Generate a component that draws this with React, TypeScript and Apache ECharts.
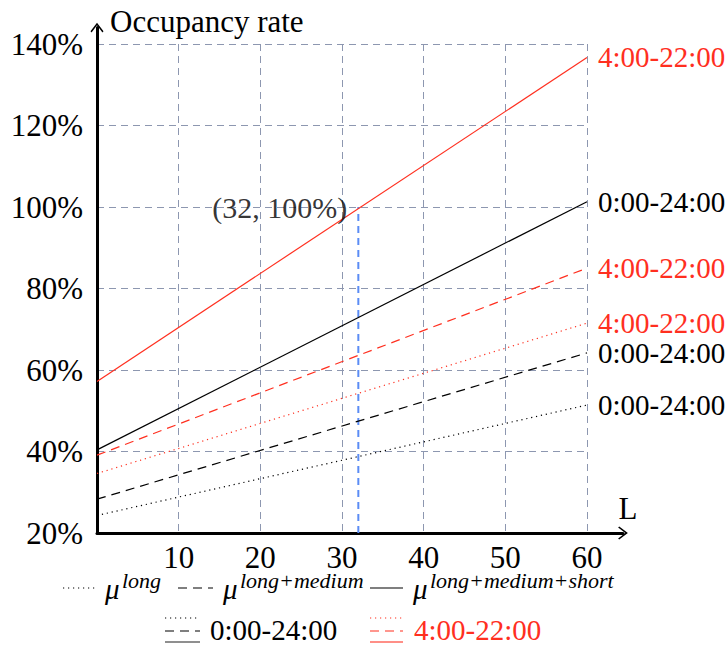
import React, { useEffect, useRef } from "react";
import * as echarts from "echarts";

// ---- data ----
const xValues = [0, 60];
const longAllDay = [24.3, 51.4];
const longMediumAllDay = [28.3, 64.2];
const longMediumShortAllDay = [40.4, 101.3];
const longDaytime = [34.6, 71.5];
const longMediumDaytime = [39.1, 85.0];
const longMediumShortDaytime = [57.2, 136.7];
const xTicks = [10, 20, 30, 40, 50, 60];
const yTicks = [20, 40, 60, 80, 100, 120, 140];
const markX = 32;
const markY = 100;
const labelAllDay = "0:00-24:00";
const labelDaytime = "4:00-22:00";
const legendSups = ["long", "long+medium", "long+medium+short"];

const FONT = '"Liberation Serif", "Times New Roman", serif';
const RED = "#ff2f1f";
const BLACK = "#000000";
const GRID = "#8d97b0";

const toPoints = (ys: number[]) => xValues.map((x, i) => [x, ys[i]]);

function lineSeries(name: string, ys: number[], color: string, type: any, label: string) {
  return {
    name,
    type: "line",
    xAxisIndex: 0,
    yAxisIndex: 0,
    data: toPoints(ys),
    showSymbol: false,
    symbol: "none",
    silent: true,
    lineStyle: { color, width: 1.2, type },
    endLabel: {
      show: true,
      formatter: label,
      color,
      fontFamily: FONT,
      fontSize: 29,
      distance: 11,
    },
    z: 3,
  };
}

const DOTTED = [1.2, 3.8];
const DASHED = [9, 6];

function titleText(text: string, left: number, centerY: number, size: number, italic: boolean, color: string) {
  return {
    text,
    left,
    top: centerY - size / 2,
    padding: 0,
    itemGap: 0,
    textStyle: {
      fontFamily: FONT,
      fontSize: size,
      fontStyle: italic ? "italic" : "normal",
      fontWeight: "normal",
      color,
      lineHeight: size,
    },
  };
}

export default function App() {
  const ref = useRef<HTMLDivElement>(null);
  useEffect(() => {
    if (!ref.current) return;
    const chart = echarts.init(ref.current, undefined, { renderer: "svg" });
    const arrowPath = "path://M0,0 L6,8 L5,9 L0,2.4 L-5,9 L-6,8 Z";

    const legendRowY = 588;
    const row2Y = 630;
    const legendGraphics: any[] = [];
    const titles: any[] = [];
    const sampleStyles = [DOTTED, DASHED, null];
    const sampleX = [[63, 97], [178, 213], [370, 403]];
    const muX = [105, 223, 413];
    sampleStyles.forEach((dash, i) => {
      legendGraphics.push({
        type: "line",
        shape: { x1: sampleX[i][0], y1: legendRowY, x2: sampleX[i][1], y2: legendRowY },
        style: { stroke: BLACK, lineWidth: 1.2, lineDash: dash || undefined },
      });
      titles.push(titleText("μ", muX[i], 589, 29, true, BLACK));
      titles.push(titleText(legendSups[i], muX[i] + 17, 580, 22, true, BLACK));
    });
    const row2 = [
      { x: [165, 200], color: BLACK, solid: "#6a6a6a", text: labelAllDay, tx: 210 },
      { x: [370, 403], color: RED, solid: "#ff6a5f", text: labelDaytime, tx: 414 },
    ];
    row2.forEach((r) => {
      legendGraphics.push({
        type: "line",
        shape: { x1: r.x[0], y1: 618, x2: r.x[1], y2: 618 },
        style: { stroke: r.color, lineWidth: 1.2, lineDash: DOTTED },
      });
      legendGraphics.push({
        type: "line",
        shape: { x1: r.x[0], y1: 631, x2: r.x[1], y2: 631 },
        style: { stroke: r.color, lineWidth: 1.2, lineDash: DASHED },
      });
      legendGraphics.push({
        type: "line",
        shape: { x1: r.x[0], y1: 642, x2: r.x[1], y2: 642 },
        style: { stroke: r.solid, lineWidth: 1.6 },
      });
      titles.push(titleText(r.text, r.tx, row2Y, 29, false, r.color));
    });

    chart.setOption({
      animation: false,
      backgroundColor: "#ffffff",
      textStyle: { fontFamily: FONT },
      title: titles,
      grid: [
        { left: 97, right: 140, top: 44, bottom: 112 },
        { left: 97, right: 104, top: 27.5, bottom: 112 },
      ],
      xAxis: [
        {
          type: "value",
          gridIndex: 0,
          min: 0,
          max: 60,
          interval: 10,
          axisLine: { show: false },
          axisTick: { show: false },
          axisLabel: {
            show: true,
            margin: 12,
            fontFamily: FONT,
            fontSize: 31,
            lineHeight: 24,
            color: BLACK,
            showMinLabel: false,
            formatter: (v: number) => (xTicks.includes(v) ? String(v) : ""),
          },
          splitLine: { show: true, lineStyle: { color: GRID, type: [7, 5], width: 1 } },
        },
        {
          type: "value",
          gridIndex: 1,
          min: 0,
          max: 1,
          axisLine: {
            show: true,
            lineStyle: { color: BLACK, width: 3 },
            symbol: ["none", arrowPath],
            symbolSize: [13, 10],
          },
          axisTick: { show: false },
          axisLabel: { show: false },
          splitLine: { show: false },
          name: "L",
          nameLocation: "end",
          nameGap: 5,
          nameTextStyle: { fontFamily: FONT, fontSize: 31, color: BLACK, align: "center", verticalAlign: "bottom", padding: [0, 0, 9, 0] },
        },
      ],
      yAxis: [
        {
          type: "value",
          gridIndex: 0,
          min: 20,
          max: 140,
          interval: 20,
          axisLine: { show: false },
          axisTick: { show: false },
          axisLabel: {
            show: true,
            margin: 14,
            fontFamily: FONT,
            fontSize: 31,
            color: BLACK,
            formatter: (v: number) => (yTicks.includes(v) ? v + "%" : ""),
          },
          splitLine: { show: true, lineStyle: { color: GRID, type: [7, 5], width: 1 } },
        },
        {
          type: "value",
          gridIndex: 1,
          min: 0,
          max: 1,
          axisLine: {
            show: true,
            lineStyle: { color: BLACK, width: 3 },
            symbol: ["none", arrowPath],
            symbolSize: [13, 10],
          },
          axisTick: { show: false },
          axisLabel: { show: false },
          splitLine: { show: false },
          name: "Occupancy rate",
          nameLocation: "end",
          nameGap: 6,
          nameTextStyle: { fontFamily: FONT, fontSize: 31, color: BLACK, align: "left", verticalAlign: "middle", padding: [0, 0, 0, 13] },
        },
      ],
      series: [
        lineSeries("long 0-24", longAllDay, BLACK, DOTTED, labelAllDay),
        lineSeries("long+medium 0-24", longMediumAllDay, BLACK, DASHED, labelAllDay),
        lineSeries("long+medium+short 0-24", longMediumShortAllDay, BLACK, "solid", labelAllDay),
        lineSeries("long 4-22", longDaytime, RED, DOTTED, labelDaytime),
        lineSeries("long+medium 4-22", longMediumDaytime, RED, DASHED, labelDaytime),
        lineSeries("long+medium+short 4-22", longMediumShortDaytime, RED, "solid", labelDaytime),
        {
          name: "marker",
          type: "line",
          xAxisIndex: 0,
          yAxisIndex: 0,
          data: [[markX, 20], [markX, markY]],
          showSymbol: false,
          symbol: "none",
          silent: true,
          lineStyle: { color: "#5b8cf5", width: 2, type: [7, 5] },
          z: 2,
        },
        {
          name: "point",
          type: "scatter",
          xAxisIndex: 0,
          yAxisIndex: 0,
          data: [[markX, markY]],
          symbolSize: 0,
          silent: true,
          z: 5,
          label: {
            show: true,
            position: "left",
            distance: 11,
            formatter: `(${markX}, ${markY}%)`,
            fontFamily: FONT,
            fontSize: 30,
            color: BLACK,
          },
        },
      ],
      graphic: legendGraphics,
    });
    return () => chart.dispose();
  }, []);
  return <div ref={ref} style={{ position: "fixed", left: 0, top: 0, width: 727, height: 645 }} />;
}
